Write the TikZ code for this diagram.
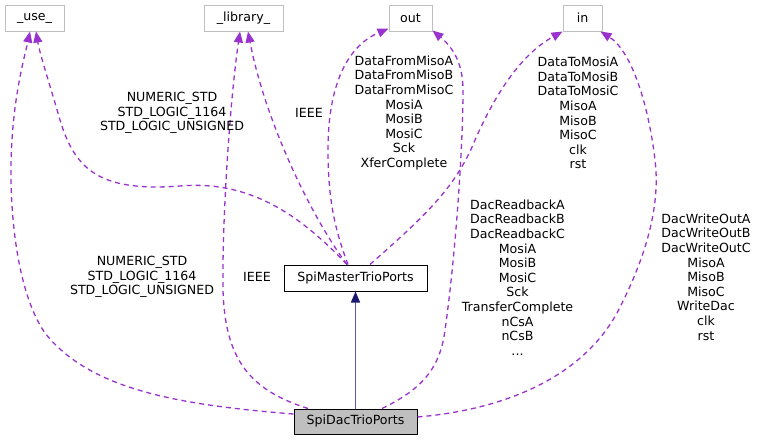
\documentclass[tikz,border=0pt]{standalone}
\usepackage{fontspec}
\setmainfont{DejaVu Sans}
\usetikzlibrary{arrows.meta}
\definecolor{orchid}{RGB}{154,50,205}
\definecolor{mnblue}{RGB}{25,25,112}
\definecolor{boxgray}{RGB}{191,191,191}
\definecolor{lightborder}{RGB}{191,191,191}
\tikzset{
  every node/.style={font=\fontsize{12.6}{14.6}\selectfont, inner sep=0pt, text=black},
  extbox/.style={draw=lightborder, line width=1pt, fill=white, minimum height=26pt},
  classbox/.style={draw=black, line width=1pt, fill=white, minimum height=26pt},
  curbox/.style={draw=black, line width=1pt, fill=boxgray, minimum height=25pt},
  usage/.style={draw=orchid, line width=1.3pt, dash pattern=on 5pt off 4pt,
    -{Triangle[length=11pt,width=9pt,fill=orchid]}},
  inherit/.style={draw=mnblue!70, line width=1.5pt, -{Triangle[length=11pt,width=9pt,color=mnblue]}},
  lbl/.style={align=center}
}
\begin{document}
\begin{tikzpicture}[x=1pt,y=-1pt]
\useasboundingbox (0,0) rectangle (760,440);
% nodes
\node[extbox, minimum width=59pt] (use) at (34.5,18) {\_use\_};
\node[extbox, minimum width=79pt] (lib) at (243.5,18) {\_library\_};
\node[extbox, minimum width=43pt] (out) at (410.5,18) {out};
\node[extbox, minimum width=39pt] (in) at (582.5,18) {in};
\node[classbox, minimum width=143pt] (master) at (355.5,278) {SpiMasterTrioPorts};
\node[curbox, minimum width=123pt] (dac) at (355.5,421.5) {SpiDacTrioPorts};

% inheritance
\draw[inherit] (dac.north) -- (master.south);

% master -> _use_
\draw[usage] ([xshift=-8.5pt]master.north) .. controls (300,215) and (250,180) .. (180,186)
  .. controls (100,192) and (75,170) .. (60,120) .. controls (50,85) and (40,55) .. ([xshift=1.5pt]use.south);
% dac -> _use_
\draw[usage] ([yshift=7.5pt]dac.west) .. controls (180,405) and (90,390) .. (45,333)
  .. controls (15,290) and (8,200) .. (12,140) .. controls (15,90) and (25,55) .. ([xshift=-4.5pt]use.south);
% master -> _library_
\draw[usage] ([xshift=-8.5pt]master.north) .. controls (310,215) and (265,120) .. ([xshift=4.5pt]lib.south);
% dac -> _library_
\draw[usage] ([xshift=-47.5pt]dac.north) .. controls (250,390) and (225,360) .. (223,290)
  .. controls (222,220) and (230,100) .. ([xshift=-3.5pt]lib.south);
% master -> out
\draw[usage] ([xshift=-7.5pt]master.north) .. controls (335,230) and (328,200) .. (328,150)
  .. controls (328,80) and (350,45) .. ([yshift=3pt]out.south west);
% dac -> out
\draw[usage] ([xshift=26.5pt]dac.north) .. controls (420,390) and (440,370) .. (445,330)
  .. controls (455,260) and (463,150) .. (463,90) .. controls (463,60) and (450,45) .. ([yshift=1pt]out.south east);
% master -> in
\draw[usage] ([xshift=14.5pt]master.north) .. controls (420,220) and (455,190) .. (475,140)
  .. controls (495,95) and (520,55) .. (in.south west);
% dac -> in
\draw[usage] ([yshift=4.5pt]dac.east) .. controls (500,410) and (580,380) .. (617,313)
  .. controls (650,250) and (660,200) .. (655,160) .. controls (648,100) and (630,50) .. ([xshift=-2pt]in.south east);

% labels
\node[lbl] (l1) at (172,113) {NUMERIC\_STD\\STD\_LOGIC\_1164\\STD\_LOGIC\_UNSIGNED};
\node[lbl] (l2) at (142,277) {NUMERIC\_STD\\STD\_LOGIC\_1164\\STD\_LOGIC\_UNSIGNED};
\node[lbl] (l3) at (309,113) {IEEE};
\node[lbl] (l4) at (257,277) {IEEE};
\node[lbl] (l5) at (404,113) {DataFromMisoA\\DataFromMisoB\\DataFromMisoC\\MosiA\\MosiB\\MosiC\\Sck\\XferComplete};
\node[lbl] (l6) at (517.5,277.5) {DacReadbackA\\DacReadbackB\\DacReadbackC\\MosiA\\MosiB\\MosiC\\Sck\\TransferComplete\\nCsA\\nCsB\\...};
\node[lbl] (l7) at (578,113) {DataToMosiA\\DataToMosiB\\DataToMosiC\\MisoA\\MisoB\\MisoC\\clk\\rst};
\node[lbl] (l8) at (706,277) {DacWriteOutA\\DacWriteOutB\\DacWriteOutC\\MisoA\\MisoB\\MisoC\\WriteDac\\clk\\rst};
\end{tikzpicture}
\end{document}
